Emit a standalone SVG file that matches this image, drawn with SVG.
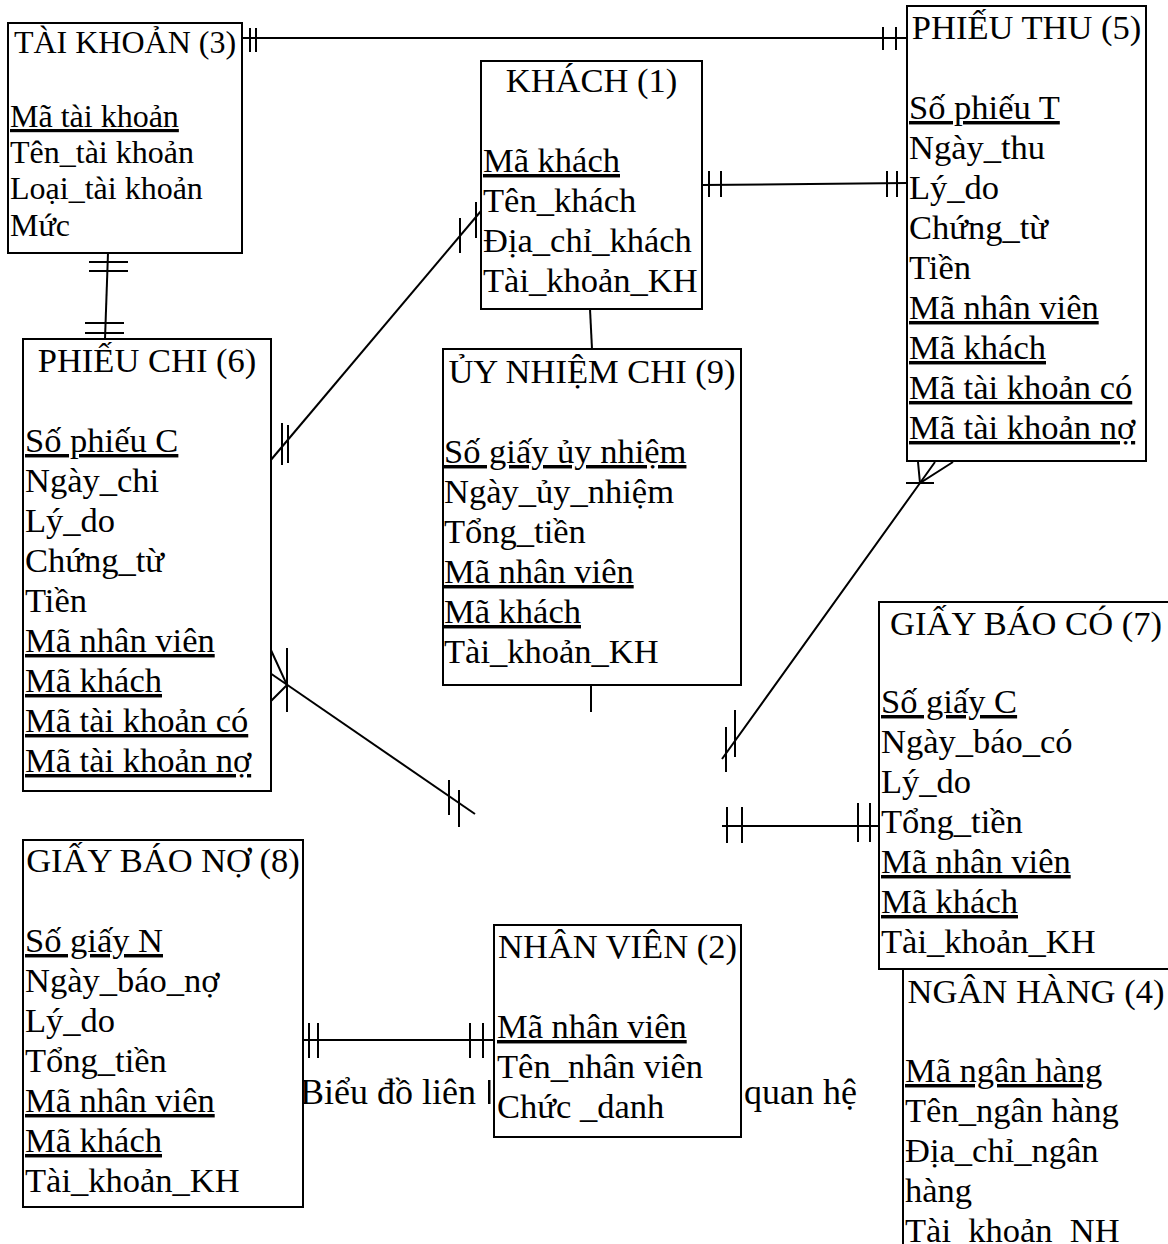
<svg xmlns="http://www.w3.org/2000/svg" width="1168" height="1244" viewBox="0 0 1168 1244">
  <style>
    text { font-family: "Liberation Serif", "Times New Roman", serif; font-size: 34.5px; fill: #000; }
    .t { text-anchor: middle; }
    .k { text-decoration: underline; }
    .sm { font-size: 32px; }
    .cap { font-size: 36px; }
    .box { fill: #fff; stroke: #000; stroke-width: 2; }
    .ln { stroke: #000; stroke-width: 2; fill: none; stroke-linecap: butt; }
  </style>
  <rect width="1168" height="1244" fill="#fff"/>

  <!-- caption text running behind the NHÂN VIÊN entity -->
  <g id="caption">
    <text class="cap" x="300" y="1104">Biểu đồ liên</text>
    <rect x="488" y="1080" width="2.5" height="24" fill="#000"/>
    <text class="cap" x="744" y="1104">quan hệ</text>
  </g>

  <!-- relationship lines with cardinality marks -->
  <g id="connectors" class="ln">
    <!-- TÀI KHOẢN — PHIẾU THU -->
    <path d="M242 38H907"/>
    <path d="M250 28V52M256 28V52M883 27V50M896 27V50"/>
    <!-- KHÁCH — PHIẾU THU -->
    <path d="M702 185L907 183"/>
    <path d="M709 171V197M721 171V197M887 171V197M897 171V197"/>
    <!-- TÀI KHOẢN — PHIẾU CHI -->
    <path d="M108 253L105 339"/>
    <path d="M89 262H128M89 271H128M85 323H124M85 333H124"/>
    <!-- PHIẾU CHI — KHÁCH -->
    <path d="M270 461L481 211"/>
    <path d="M282 423V465M288 425V463M460 218V253M476 202V238"/>
    <!-- PHIẾU CHI (many) — open end -->
    <path d="M270 673L475 814"/>
    <path d="M270 648L287 685L270 702M287 648V712"/>
    <path d="M449 780V815M459 790V827"/>
    <!-- KHÁCH — ỦY NHIỆM CHI -->
    <path d="M590 309L592 349"/>
    <!-- stub below ỦY NHIỆM CHI -->
    <path d="M591 685V712"/>
    <!-- PHIẾU THU (many) — open end -->
    <path d="M722 759L920 483L935 462"/>
    <path d="M918 462L920 483L953 462M906 483H934"/>
    <path d="M726 727V772M735 710V757"/>
    <!-- open end — GIẤY BÁO CÓ -->
    <path d="M722 826H879"/>
    <path d="M727 807V843M742 807V843M858 803V842M870 803V842"/>
    <!-- GIẤY BÁO NỢ — NHÂN VIÊN -->
    <path d="M303 1040H494"/>
    <path d="M309 1023V1058M318 1023V1058M470 1023V1058M483 1023V1058"/>
  </g>

  <g id="tai-khoan">
    <rect class="box" x="8" y="23" width="234" height="230"/>
    <text class="sm t" x="125" y="53">TÀI KHOẢN (3)</text>
    <text class="sm k" x="10" y="127">Mã tài khoản</text>
    <text class="sm" x="10" y="163">Tên_tài khoản</text>
    <text class="sm" x="10" y="199">Loại_tài khoản</text>
    <text class="sm" x="10" y="236">Mức</text>
  </g>

  <g id="khach">
    <rect class="box" x="481" y="61" width="221" height="248"/>
    <text class="t" x="591.5" y="92">KHÁCH (1)</text>
    <text class="k" x="483" y="172">Mã khách</text>
    <text x="483" y="212">Tên_khách</text>
    <text x="483" y="252">Địa_chỉ_khách</text>
    <text x="483" y="292">Tài_khoản_KH</text>
  </g>

  <g id="phieu-thu">
    <rect class="box" x="907" y="6" width="239" height="455"/>
    <text class="t" x="1026.5" y="39">PHIẾU THU (5)</text>
    <text class="k" x="909" y="119">Số phiếu T</text>
    <text x="909" y="159">Ngày_thu</text>
    <text x="909" y="199">Lý_do</text>
    <text x="909" y="239">Chứng_từ</text>
    <text x="909" y="279">Tiền</text>
    <text class="k" x="909" y="319">Mã nhân viên</text>
    <text class="k" x="909" y="359">Mã khách</text>
    <text class="k" x="909" y="399">Mã tài khoản có</text>
    <text class="k" x="909" y="439">Mã tài khoản nợ</text>
  </g>

  <g id="phieu-chi">
    <rect class="box" x="23" y="339" width="248" height="452"/>
    <text class="t" x="147" y="372">PHIẾU CHI (6)</text>
    <text class="k" x="25" y="452">Số phiếu C</text>
    <text x="25" y="492">Ngày_chi</text>
    <text x="25" y="532">Lý_do</text>
    <text x="25" y="572">Chứng_từ</text>
    <text x="25" y="612">Tiền</text>
    <text class="k" x="25" y="652">Mã nhân viên</text>
    <text class="k" x="25" y="692">Mã khách</text>
    <text class="k" x="25" y="732">Mã tài khoản có</text>
    <text class="k" x="25" y="772">Mã tài khoản nợ</text>
  </g>

  <g id="uy-nhiem-chi">
    <rect class="box" x="443" y="349" width="298" height="336"/>
    <text class="t" x="592" y="383">ỦY NHIỆM CHI (9)</text>
    <text class="k" x="444" y="463">Số giấy ủy nhiệm</text>
    <text x="444" y="503">Ngày_ủy_nhiệm</text>
    <text x="444" y="543">Tổng_tiền</text>
    <text class="k" x="444" y="583">Mã nhân viên</text>
    <text class="k" x="444" y="623">Mã khách</text>
    <text x="444" y="663">Tài_khoản_KH</text>
  </g>

  <g id="ngan-hang">
    <rect class="box" x="903" y="969" width="280" height="300"/>
    <text class="t" x="1036" y="1003">NGÂN HÀNG (4)</text>
    <text class="k" x="905" y="1082">Mã ngân hàng</text>
    <text x="905" y="1122">Tên_ngân hàng</text>
    <text x="905" y="1162">Địa_chỉ_ngân</text>
    <text x="905" y="1202">hàng</text>
    <text x="905" y="1242">Tài_khoản_NH</text>
  </g>

  <g id="giay-bao-co">
    <rect class="box" x="879" y="602" width="294" height="367"/>
    <text class="t" x="1026" y="635">GIẤY BÁO CÓ (7)</text>
    <text class="k" x="881" y="713">Số giấy C</text>
    <text x="881" y="753">Ngày_báo_có</text>
    <text x="881" y="793">Lý_do</text>
    <text x="881" y="833">Tổng_tiền</text>
    <text class="k" x="881" y="873">Mã nhân viên</text>
    <text class="k" x="881" y="913">Mã khách</text>
    <text x="881" y="953">Tài_khoản_KH</text>
  </g>

  <g id="giay-bao-no">
    <rect class="box" x="23" y="840" width="280" height="367"/>
    <text class="t" x="163" y="872">GIẤY BÁO NỢ (8)</text>
    <text class="k" x="25" y="952">Số giấy N</text>
    <text x="25" y="992">Ngày_báo_nợ</text>
    <text x="25" y="1032">Lý_do</text>
    <text x="25" y="1072">Tổng_tiền</text>
    <text class="k" x="25" y="1112">Mã nhân viên</text>
    <text class="k" x="25" y="1152">Mã khách</text>
    <text x="25" y="1192">Tài_khoản_KH</text>
  </g>

  <g id="nhan-vien">
    <rect class="box" x="494" y="925" width="247" height="212"/>
    <text class="t" x="617.5" y="958">NHÂN VIÊN (2)</text>
    <text class="k" x="497" y="1038">Mã nhân viên</text>
    <text x="497" y="1078">Tên_nhân viên</text>
    <text x="497" y="1118">Chức _danh</text>
  </g>
</svg>
